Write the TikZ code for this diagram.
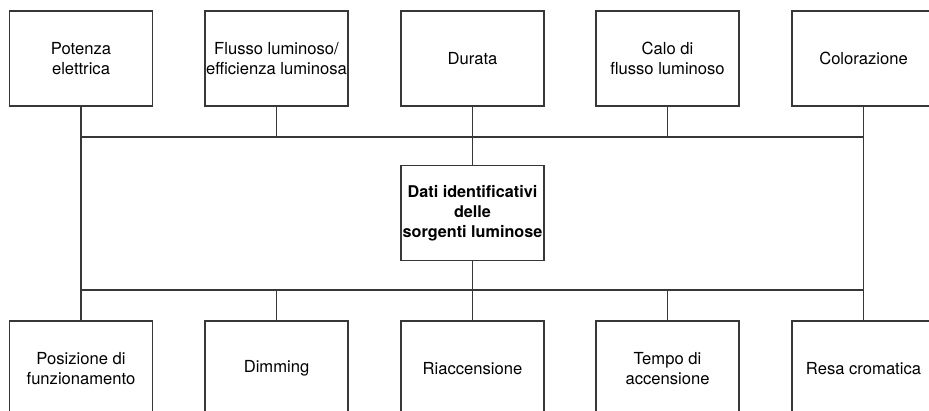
\documentclass[tikz,border=0pt]{standalone}
\usepackage{fontspec}
\setmainfont{TeX Gyre Heros}
\usepackage{xcolor}
\definecolor{lineclr}{RGB}{55,55,55}
\usetikzlibrary{positioning,calc}
\tikzset{
  datbox/.style={rectangle,draw=lineclr,line width=0.55pt,fill=white,
    minimum width=71.5pt,minimum height=47.5pt,inner sep=0pt,align=center,
    font=\fontsize{8.3}{10.3}\selectfont},
  hubbox/.style={datbox,font=\fontsize{8.1}{10.1}\selectfont\bfseries},
  bus/.style={draw=lineclr,line width=0.55pt},
}
\begin{document}
\begin{tikzpicture}[x=0.5pt,y=-0.5pt]
  \clip (0,0) rectangle (929,411);
  % properties above
  \node (p1)[datbox] at (81,58.5)  {Potenza\\elettrica};
  \node (p2)[datbox] at (276.5,58.5) {Flusso luminoso/\\efficienza luminosa};
  \node (p3)[datbox] at (472.5,58.5) {Durata};
  \node (p4)[datbox] at (667.5,58.5) {Calo di\\flusso luminoso};
  \node (p5)[datbox] at (863.5,58.5) {Colorazione};
  % centre
  \node (hub)[hubbox] at (472.5,213) {Dati identificativi\\delle\\sorgenti luminose};
  % properties below
  \node (q1)[datbox] at (81,368.5)  {Posizione di\\funzionamento};
  \node (q2)[datbox] at (276.5,368.5) {Dimming};
  \node (q3)[datbox] at (472.5,368.5) {Riaccensione};
  \node (q4)[datbox] at (667.5,368.5) {Tempo di\\accensione};
  \node (q5)[datbox] at (863.5,368.5) {Resa cromatica};
  \coordinate (bt) at (0,137);
  \coordinate (bb) at (0,290);
  % bus lines
  \draw[bus] (p1.south) -- (q1.north);
  \draw[bus] (p5.south) -- (q5.north);
  \draw[bus] (p1.south |- bt) -- (p5.south |- bt);
  \draw[bus] (q1.north |- bb) -- (q5.north |- bb);
  \foreach \n in {p2,p3,p4} \draw[bus] (\n.south) -- (\n.south |- bt);
  \foreach \n in {q2,q3,q4} \draw[bus] (\n.north) -- (\n.north |- bb);
  \draw[bus] (hub.north) -- (hub.north |- bt);
  \draw[bus] (hub.south) -- (hub.south |- bb);
\end{tikzpicture}
\end{document}
